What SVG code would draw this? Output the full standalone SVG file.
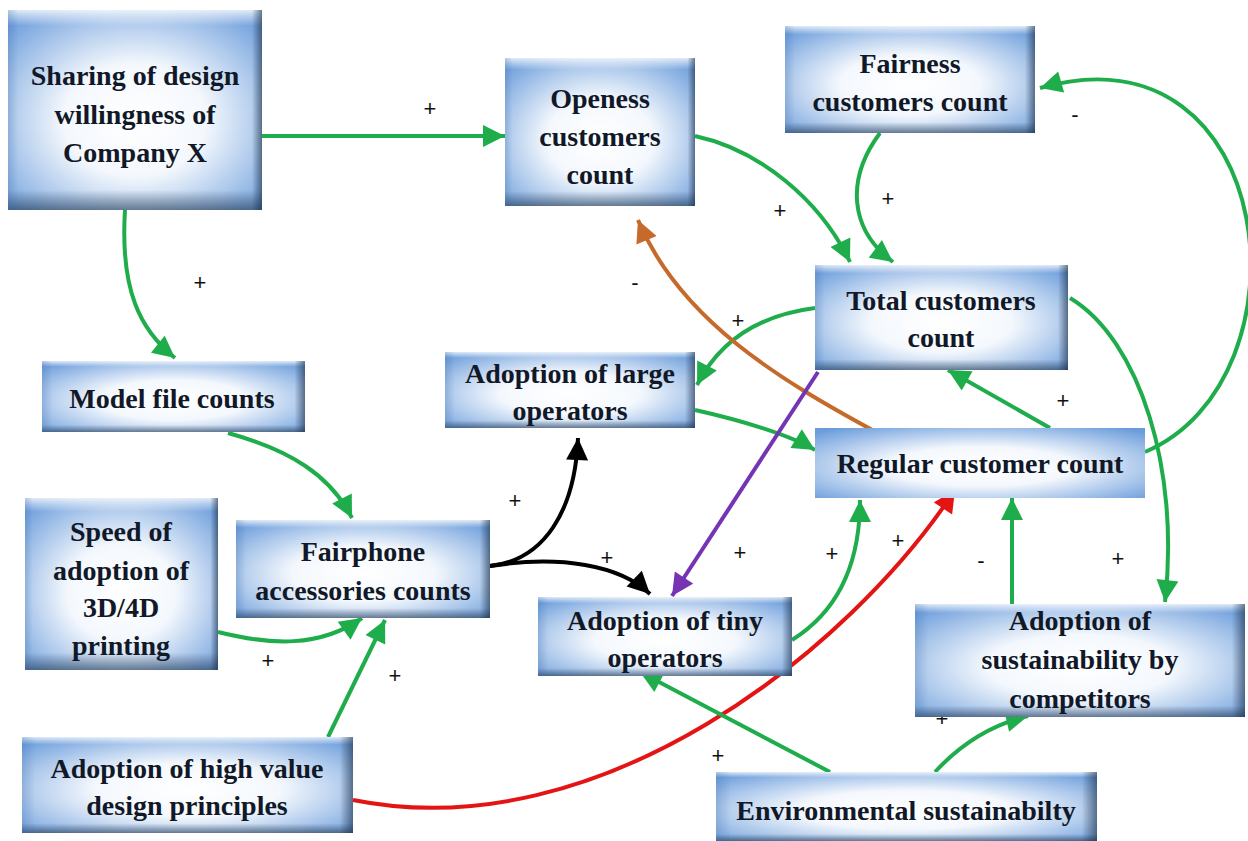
<svg xmlns="http://www.w3.org/2000/svg" width="1248" height="841" viewBox="0 0 1248 841">
<style>
.t{font-family:"Liberation Serif","Times New Roman",serif;font-weight:bold;font-size:28px;fill:#111827;text-anchor:middle}
.l{font-family:"Liberation Sans",Arial,sans-serif;font-size:22px;fill:#111;text-anchor:middle}
.c{fill:none;stroke-width:4}
.gr{stroke:#1fad4c;marker-end:url(#ag)}
.or{stroke:#c56a2a;marker-end:url(#ao)}
.pu{stroke:#7434b4;marker-end:url(#ap)}
.rd{stroke:#e41414;marker-end:url(#ar)}
.bk{stroke:#000;marker-end:url(#ab)}
.f{fill:url(#rg)}
.bv{fill:url(#vg)}
.bh{fill:url(#hg)}
</style>
<defs>
<radialGradient id="rg" cx="50%" cy="55%" r="70%">
<stop offset="0" stop-color="#ffffff"/>
<stop offset="0.4" stop-color="#f4f8fd"/>
<stop offset="1" stop-color="#6a9cdb"/>
</radialGradient>
<linearGradient id="vg" x1="0" y1="0" x2="0" y2="1">
<stop offset="0" stop-color="#ffffff" stop-opacity="0.8"/>
<stop offset="0.08" stop-color="#ffffff" stop-opacity="0"/>
<stop offset="0.9" stop-color="#1c3048" stop-opacity="0"/>
<stop offset="1" stop-color="#1c3048" stop-opacity="0.55"/>
</linearGradient>
<linearGradient id="hg" x1="0" y1="0" x2="1" y2="0">
<stop offset="0" stop-color="#3a6aa8" stop-opacity="0.25"/>
<stop offset="0.04" stop-color="#3a6aa8" stop-opacity="0"/>
<stop offset="0.96" stop-color="#1c3048" stop-opacity="0"/>
<stop offset="1" stop-color="#1c3048" stop-opacity="0.6"/>
</linearGradient>
<marker id="ag" viewBox="0 0 10 10" refX="10" refY="5" markerWidth="6" markerHeight="5.5" orient="auto"><path d="M0,0L10,5L0,10z" fill="#1fad4c"/></marker>
<marker id="ao" viewBox="0 0 10 10" refX="10" refY="5" markerWidth="6" markerHeight="5.5" orient="auto"><path d="M0,0L10,5L0,10z" fill="#c56a2a"/></marker>
<marker id="ap" viewBox="0 0 10 10" refX="10" refY="5" markerWidth="6" markerHeight="5.5" orient="auto"><path d="M0,0L10,5L0,10z" fill="#7434b4"/></marker>
<marker id="ar" viewBox="0 0 10 10" refX="10" refY="5" markerWidth="6" markerHeight="5.5" orient="auto"><path d="M0,0L10,5L0,10z" fill="#e41414"/></marker>
<marker id="ab" viewBox="0 0 10 10" refX="10" refY="5" markerWidth="6" markerHeight="5.5" orient="auto"><path d="M0,0L10,5L0,10z" fill="#000"/></marker>
</defs>
<rect width="1248" height="841" fill="#fff"/>

<g id="connectors">
<path class="c gr" d="M262,136 L505,136"/>
<path class="c gr" d="M125,210 C120,290 140,330 175,358"/>
<path class="c gr" d="M228,433 C290,450 330,475 352,518"/>
<path class="c gr" d="M695,136 C760,150 820,200 850,262"/>
<path class="c gr" d="M880,133 C845,180 850,230 893,262"/>
<path class="c gr" d="M1145,452 C1315,380 1280,20 1040,88"/>
<path class="c gr" d="M815,308 C760,315 720,340 697,385"/>
<path class="c gr" d="M695,410 C740,420 790,435 815,450"/>
<path class="c gr" d="M1050,428 L948,370"/>
<path class="c gr" d="M1070,298 C1140,340 1180,470 1165,602"/>
<path class="c or" d="M876,432 C780,380 680,320 638,220"/>
<path class="c pu" d="M818,372 L672,596"/>
<path class="c bk" d="M490,566 C545,560 575,510 578,438"/>
<path class="c bk" d="M490,566 C560,555 620,565 650,594"/>
<path class="c gr" d="M792,640 C840,610 860,560 860,500"/>
<path class="c rd" d="M353,800 C600,850 850,650 955,490"/>
<path class="c gr" d="M1012,604 L1012,498"/>
<path class="c gr" d="M218,632 C270,645 320,648 362,618"/>
<path class="c gr" d="M328,737 L385,620"/>
<path class="c gr" d="M830,772 L640,672"/>
<path class="c gr" d="M935,772 C960,745 990,725 1028,716"/>
</g>

<g id="labels">
<text class="l" x="430" y="116">+</text>
<text class="l" x="200" y="290">+</text>
<text class="l" x="780" y="218">+</text>
<text class="l" x="888" y="206">+</text>
<text class="l" x="1075" y="122">-</text>
<text class="l" x="738" y="328">+</text>
<text class="l" x="1063" y="408">+</text>
<text class="l" x="1118" y="566">+</text>
<text class="l" x="635" y="290">-</text>
<text class="l" x="515" y="508">+</text>
<text class="l" x="607" y="565">+</text>
<text class="l" x="740" y="560">+</text>
<text class="l" x="832" y="561">+</text>
<text class="l" x="898" y="548">+</text>
<text class="l" x="981" y="568">-</text>
<text class="l" x="268" y="668">+</text>
<text class="l" x="395" y="683">+</text>
<text class="l" x="718" y="763">+</text>
<text class="l" x="942" y="726">+</text>
</g>

<g id="n1"><rect class="f" x="8" y="10" width="254" height="200"/><rect class="bv" x="8" y="10" width="254" height="200"/><rect class="bh" x="8" y="10" width="254" height="200"/>
<text class="t" x="135" y="85">Sharing of design</text><text class="t" x="135" y="124">willingness of</text><text class="t" x="135" y="162">Company X</text></g>

<g id="n2"><rect class="f" x="505" y="58" width="190" height="148"/><rect class="bv" x="505" y="58" width="190" height="148"/><rect class="bh" x="505" y="58" width="190" height="148"/>
<text class="t" x="600" y="108">Openess</text><text class="t" x="600" y="146">customers</text><text class="t" x="600" y="184">count</text></g>

<g id="n3"><rect class="f" x="785" y="26" width="250" height="107"/><rect class="bv" x="785" y="26" width="250" height="107"/><rect class="bh" x="785" y="26" width="250" height="107"/>
<text class="t" x="910" y="73">Fairness</text><text class="t" x="910" y="111">customers count</text></g>

<g id="n4"><rect class="f" x="815" y="265" width="253" height="105"/><rect class="bv" x="815" y="265" width="253" height="105"/><rect class="bh" x="815" y="265" width="253" height="105"/>
<text class="t" x="941" y="310">Total  customers</text><text class="t" x="941" y="347">count</text></g>

<g id="n5"><rect class="f" x="445" y="352" width="250" height="76"/><rect class="bv" x="445" y="352" width="250" height="76"/><rect class="bh" x="445" y="352" width="250" height="76"/>
<text class="t" x="570" y="383">Adoption of large</text><text class="t" x="570" y="420">operators</text></g>

<g id="n6"><rect class="f" x="815" y="428" width="330" height="70"/>
<text class="t" x="980" y="473">Regular customer count</text></g>

<g id="n7"><rect class="f" x="42" y="361" width="263" height="71"/><rect class="bv" x="42" y="361" width="263" height="71"/><rect class="bh" x="42" y="361" width="263" height="71"/>
<text class="t" x="172" y="408">Model file counts</text></g>

<g id="n8"><rect class="f" x="25" y="498" width="193" height="172"/><rect class="bv" x="25" y="498" width="193" height="172"/><rect class="bh" x="25" y="498" width="193" height="172"/>
<text class="t" x="121" y="541">Speed of</text><text class="t" x="121" y="580">adoption of</text><text class="t" x="121" y="617">3D/4D</text><text class="t" x="121" y="655">printing</text></g>

<g id="n9"><rect class="f" x="236" y="520" width="254" height="98"/><rect class="bv" x="236" y="520" width="254" height="98"/><rect class="bh" x="236" y="520" width="254" height="98"/>
<text class="t" x="363" y="561">Fairphone</text><text class="t" x="363" y="600">accessories  counts</text></g>

<g id="n10"><rect class="f" x="538" y="597" width="254" height="79"/><rect class="bv" x="538" y="597" width="254" height="79"/><rect class="bh" x="538" y="597" width="254" height="79"/>
<text class="t" x="665" y="630">Adoption of tiny</text><text class="t" x="665" y="667">operators</text></g>

<g id="n11"><rect class="f" x="915" y="604" width="330" height="113"/><rect class="bv" x="915" y="604" width="330" height="113"/><rect class="bh" x="915" y="604" width="330" height="113"/>
<text class="t" x="1080" y="630">Adoption of</text><text class="t" x="1080" y="669">sustainability by</text><text class="t" x="1080" y="708">competitors</text></g>

<g id="n12"><rect class="f" x="22" y="737" width="331" height="96"/><rect class="bv" x="22" y="737" width="331" height="96"/><rect class="bh" x="22" y="737" width="331" height="96"/>
<text class="t" x="187" y="778">Adoption of high value</text><text class="t" x="187" y="815">design principles</text></g>

<g id="n13"><rect class="f" x="716" y="772" width="381" height="69"/><rect class="bv" x="716" y="772" width="381" height="69"/><rect class="bh" x="716" y="772" width="381" height="69"/>
<text class="t" x="906" y="820">Environmental sustainabilty</text></g>
</svg>
